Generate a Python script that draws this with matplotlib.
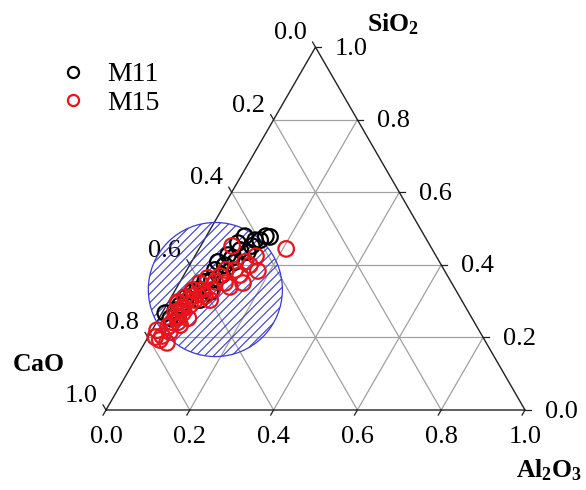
import numpy as np
import matplotlib
matplotlib.use('Agg')
import matplotlib.pyplot as plt
from matplotlib.patches import Circle
from matplotlib.lines import Line2D

# ---------------- data (mass fractions) ----------------
m11_sio2 = [0.477, 0.479, 0.479, 0.468, 0.460, 0.427, 0.435, 0.399, 0.386, 0.372, 0.353,
            0.331, 0.311, 0.289, 0.267, 0.253, 0.303, 0.325, 0.408, 0.441, 0.408,
            0.275, 0.325, 0.419, 0.452, 0.468, 0.358]
m11_al2o3 = [0.153, 0.142, 0.092, 0.122, 0.085, 0.078, 0.121, 0.084, 0.067, 0.091, 0.060,
             0.052, 0.036, 0.032, 0.008, 0.027, 0.073, 0.086, 0.104, 0.100, 0.063,
             0.028, 0.043, 0.091, 0.122, 0.134, 0.074]
m11_cao = [0.370, 0.379, 0.429, 0.410, 0.455, 0.495, 0.444, 0.517, 0.547, 0.537, 0.587,
           0.617, 0.653, 0.679, 0.725, 0.720, 0.624, 0.589, 0.488, 0.459, 0.529,
           0.697, 0.632, 0.490, 0.426, 0.398, 0.568]

m15_sio2 = [0.444, 0.452, 0.424, 0.383, 0.350, 0.339, 0.408, 0.386, 0.369, 0.364, 0.350,
            0.331, 0.331, 0.311, 0.295, 0.289, 0.270, 0.267, 0.303, 0.242, 0.234, 0.220,
            0.193, 0.185, 0.201, 0.215, 0.314, 0.350, 0.372, 0.320, 0.280, 0.255,
            0.303, 0.281, 0.259, 0.314, 0.331, 0.242, 0.231, 0.253, 0.353, 0.303,
            0.204, 0.298, 0.399, 0.386]
m15_al2o3 = [0.208, 0.075, 0.146, 0.171, 0.152, 0.126, 0.128, 0.115, 0.088, 0.061, 0.049,
             0.088, 0.042, 0.033, 0.024, 0.056, 0.030, 0.050, 0.061, 0.037, 0.060, 0.012,
             0.032, 0.053, 0.017, 0.045, 0.079, 0.109, 0.134, 0.070, 0.045, 0.045,
             0.044, 0.041, 0.038, 0.053, 0.064, 0.051, 0.033, 0.070, 0.084, 0.097,
             0.032, 0.023, 0.144, 0.093]
m15_cao = [0.348, 0.473, 0.430, 0.446, 0.498, 0.535, 0.464, 0.499, 0.543, 0.575, 0.601,
           0.581, 0.627, 0.656, 0.681, 0.655, 0.700, 0.683, 0.636, 0.721, 0.706, 0.768,
           0.775, 0.762, 0.782, 0.740, 0.607, 0.541, 0.494, 0.610, 0.675, 0.700,
           0.653, 0.678, 0.703, 0.633, 0.605, 0.707, 0.736, 0.677, 0.563, 0.600,
           0.764, 0.679, 0.457, 0.521]

# hatched region: centre composition and radius
zone_sio2, zone_al2o3, zone_cao = 0.332, 0.095, 0.573
zone_radius = 0.160

tick_values = [0.0, 0.2, 0.4, 0.6, 0.8, 1.0]
tick_labels = ['0.0', '0.2', '0.4', '0.6', '0.8', '1.0']
series_names = ['M11', 'M15']
series_colors = ['black', '#e8141c']
zone_color = '#3a3ad0'

# ---------------- style ----------------
plt.rcParams['font.family'] = ['Liberation Serif', 'DejaVu Serif']
plt.rcParams['mathtext.fontset'] = 'custom'
plt.rcParams['mathtext.rm'] = 'Liberation Serif'
plt.rcParams['mathtext.bf'] = 'Liberation Serif:bold'

H = np.sqrt(3) / 2


def to_xy(al, si, ca=None):
    al = np.asarray(al, dtype=float)
    si = np.asarray(si, dtype=float)
    if ca is not None:
        tot = al + si + np.asarray(ca, dtype=float)
        al, si = al / tot, si / tot
    return al + si / 2, si * H


fig = plt.figure(figsize=(5.86, 4.90), dpi=100)
ax = fig.add_axes([0, 0, 1, 1])
S = 419.0          # pixels per unit side
X0, YB = 106.0, 410.0
ax.set_xlim(-X0 / S, (586 - X0) / S)
ax.set_ylim(-(490 - YB) / S, YB / S)
ax.axis('off')

# grid
grid_kw = dict(color='#a0a0a0', lw=0.9, zorder=1)
for v in tick_values[1:-1]:
    x, y = to_xy([0, 1 - v], [v, v]); ax.plot(x, y, **grid_kw)          # const SiO2
    x, y = to_xy([v, v], [0, 1 - v]); ax.plot(x, y, **grid_kw)          # const Al2O3
    x, y = to_xy([1 - v, 0], [0, 1 - v]); ax.plot(x, y, **grid_kw)      # const CaO

# border
x, y = to_xy([0, 1, 0, 0], [0, 0, 1, 0])
ax.plot(x, y, color='#202020', lw=1.0, zorder=2)

# ticks
off = 0.014
tk = dict(color='#202020', lw=0.9, zorder=2)
fs = 19
for v, lab in zip(tick_values, tick_labels):
    # bottom (Al2O3)
    x, y = to_xy([v, v], [0, -off]); ax.plot(x, y, **tk)
    bx, by = to_xy(v, 0)
    ax.text(bx, by - 27 / S, lab, ha='center', va='center', fontsize=fs)
    # right (SiO2)
    x, y = to_xy([1 - v, 1 - v + off], [v, v]); ax.plot(x, y, **tk)
    rx, ry = to_xy(1 - v, v)
    ax.text(rx + 36 / S, ry - 1.5 / S, lab, ha='center', va='center', fontsize=fs)
    # left (CaO)
    x, y = to_xy([0, -off], [1 - v, 1 - v + off]); ax.plot(x, y, **tk)
    lx, ly = to_xy(0, 1 - v)
    ax.text(lx - 25 / S, ly + 14 / S, lab, ha='center', va='center', fontsize=fs)

# axis titles
tfs = 18.5
ax.text((393 - X0) / S, (YB - 24) / S, r'$\mathbf{SiO_2}$', ha='center', va='center', fontsize=tfs)
ax.text((38 - X0) / S, (YB - 365) / S, r'$\mathbf{CaO}$', ha='center', va='center', fontsize=tfs)
ax.text((549 - X0) / S, (YB - 470) / S, r'$\mathbf{Al_2O_3}$', ha='center', va='center', fontsize=tfs)

# hatched zone (outline + clipped diagonal hatch lines)
cx, cy = to_xy(zone_al2o3, zone_sio2, zone_cao)
zone = Circle((cx, cy), zone_radius, facecolor='none', edgecolor=zone_color, lw=0.9, zorder=3)
ax.add_patch(zone)
step = 9.0 / S
r = zone_radius
for c in np.arange(-1.5 * r, 1.5 * r, step):
    ln, = ax.plot([cx - r, cx + r], [cy - r + c, cy + r + c], color=zone_color,
                  lw=0.8, zorder=3)
    ln.set_clip_path(zone)

# data
x, y = to_xy(m11_al2o3, m11_sio2, m11_cao)
ax.scatter(x, y, s=125, facecolors='none', edgecolors=series_colors[0], linewidths=1.6, zorder=4)
x, y = to_xy(m15_al2o3, m15_sio2, m15_cao)
ax.scatter(x, y, s=125, facecolors='none', edgecolors=series_colors[1], linewidths=1.6, zorder=5)

lfs = 20
handles = [Line2D([], [], ls='none', marker='o', markersize=8, mfc='none', mec=c, mew=1.6)
           for c in series_colors]
ax.legend(handles, series_names, loc='upper left', bbox_to_anchor=(59 / 586, 1 - 62 / 490),
          frameon=False, fontsize=lfs, handletextpad=0.73, labelspacing=0.1,
          borderaxespad=0, borderpad=0, handlelength=1.0)

fig.savefig('out.png', dpi=100)
